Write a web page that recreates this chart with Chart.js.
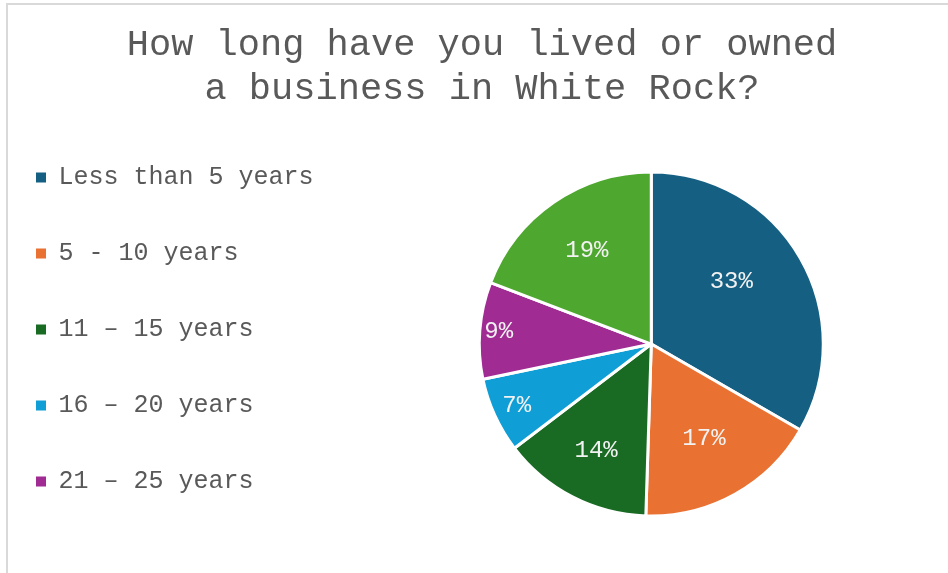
<!DOCTYPE html>
<html>
<head>
<meta charset="utf-8">
<script src="https://cdn.jsdelivr.net/npm/chart.js@4/dist/chart.umd.min.js"></script>
<style>
    html, body { margin: 0; padding: 0; background: #fff; overflow: hidden; width: 948px; height: 573px; }
    .frame { position: absolute; left: 6px; top: 3px; width: 1000px; height: 600px;
             border-top: 2px solid #d9d9d9; border-left: 2px solid #d9d9d9; box-sizing: border-box; }
    .chart-holder { position: absolute; left: -15px; top: 3px; width: 994px; height: 580px; }
</style>
</head>
<body>
<div class="frame"></div>
<div class="chart-holder"><canvas id="tenure"></canvas></div>
<script>
const categories = ['Less than 5 years', '5 - 10 years', '11 \u2013 15 years', '16 \u2013 20 years', '21 \u2013 25 years', 'More than 25 years'];
const shares = [33, 17, 14, 7, 9, 19];
const sliceColors = ['#156082', '#E97132', '#196B24', '#0F9ED5', '#A02B93', '#4EA72E'];
const titleLines = ['How long have you lived or owned', 'a business in White Rock?'];

const monoFont = '"Courier New", "Liberation Mono", monospace';

// percent text inside each slice, pushed further out on the thin ones
const sliceLabels = {
    id: 'sliceLabels',
    afterDatasetsDraw(chart, args, opts) {
        const {ctx} = chart;
        const meta = chart.getDatasetMeta(0);
        ctx.save();
        ctx.font = `${opts.size}px ${monoFont}`;
        ctx.fillStyle = opts.color;
        ctx.textAlign = 'center';
        ctx.textBaseline = 'middle';
        meta.data.forEach((arc, i) => {
            const {x, y, startAngle, endAngle, outerRadius} = arc.getProps(['x', 'y', 'startAngle', 'endAngle', 'outerRadius'], true);
            const mid = (startAngle + endAngle) / 2 + (opts.turn[i] || 0) * Math.PI / 180;
            const r = outerRadius * opts.dist[i];
            ctx.fillText(shares[i] + '%', x + Math.cos(mid) * r, y + Math.sin(mid) * r);
        });
        ctx.restore();
    }
};

const defaultLabels = Chart.overrides.pie.plugins.legend.labels.generateLabels;

new Chart(document.getElementById('tenure'), {
    type: 'pie',
    data: {
        labels: categories,
        datasets: [{
            data: shares,
            backgroundColor: sliceColors,
            borderColor: '#ffffff',
            borderWidth: 3,
            hoverOffset: 0,
            radius: 172
        }]
    },
    options: {
        responsive: true,
        maintainAspectRatio: false,
        animation: false,
        events: [],
        layout: { padding: { left: 0, right: 0, top: 0, bottom: 9 } },
        plugins: {
            title: {
                display: true,
                text: titleLines,
                color: '#595959',
                font: { family: monoFont, size: 37, weight: 'normal', lineHeight: 1.19 },
                padding: { top: 20, bottom: 3 }
            },
            legend: {
                position: 'left',
                align: 'start',
                fullSize: false,
                labels: {
                    boxWidth: 10,
                    boxHeight: 10,
                    padding: 51,
                    color: '#595959',
                    font: { family: monoFont, size: 25 },
                    generateLabels(chart) {
                        return defaultLabels(chart).map(item => ({...item, lineWidth: 0}));
                    },
                    filter: item => item.index < 5
                }
            },
            tooltip: { enabled: false },
            sliceLabels: {
                size: 24,
                color: '#f2f2f2',
                dist: [0.59, 0.63, 0.7, 0.86, 0.89, 0.66],
                turn: [-8, 0, 0, 0, 0, 0]
            }
        }
    },
    plugins: [sliceLabels]
});
</script>
</body>
</html>
